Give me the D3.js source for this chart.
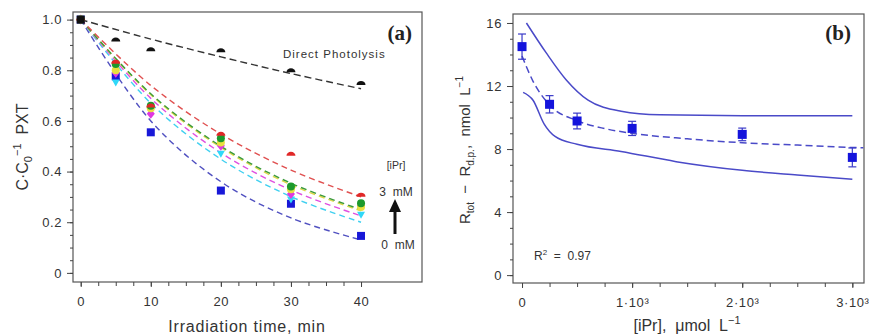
<!DOCTYPE html>
<html>
<head>
<meta charset="utf-8">
<script src="https://cdn.jsdelivr.net/npm/d3@7"></script>
<style>
  body { margin: 0; background: #fff; }
  svg { display: block; font-family: "Liberation Sans", Arial, sans-serif; }
  .tick text { fill: #333; font-size: 13px; letter-spacing: 0.6px; }
  .tick line { stroke: #444; }
</style>
</head>
<body>
<div id="chart"></div>
<script>
// ---- panel (a) data ----
const timesA = [0, 5, 10, 20, 30, 40];
const fitTimesA = [0, 10, 20, 30, 40];

const photolysisPts = [1.0, 0.917, 0.879, 0.875, 0.796, 0.746];
const photolysisFit = [1.0, 0.923, 0.853, 0.787, 0.727];

const iprSeries = ['0 mM', 'cyan', 'magenta', 'yellow', 'green', '3 mM'];
const iprColors = ['#1818d8', '#30d8f8', '#e038e0', '#e8e040', '#1c9a2c', '#e02828'];
const iprLineColors = ['#5050c0', '#40d0f0', '#e050e0', '#e0d848', '#3a9a3a', '#e05050'];
const iprMarkers = ['square', 'triangle', 'diamond', 'circle', 'circle', 'dome'];
const iprPts = [
  [1.0, 0.776, 0.555, 0.325, 0.273, 0.146],
  [1.0, 0.752, 0.640, 0.470, 0.290, 0.230],
  [1.0, 0.790, 0.628, 0.502, 0.311, 0.265],
  [1.0, 0.800, 0.650, 0.515, 0.330, 0.260],
  [1.0, 0.825, 0.660, 0.532, 0.341, 0.275],
  [1.0, 0.830, 0.657, 0.545, 0.466, 0.305]
];
const iprFits = [
  [1.0, 0.600, 0.360, 0.217, 0.130],
  [1.0, 0.670, 0.449, 0.301, 0.200],
  [1.0, 0.689, 0.474, 0.327, 0.225],
  [1.0, 0.703, 0.495, 0.348, 0.245],
  [1.0, 0.707, 0.500, 0.354, 0.250],
  [1.0, 0.740, 0.548, 0.406, 0.300]
];
const yTicksA = [0, 0.2, 0.4, 0.6, 0.8, 1.0];
const yTickLabelsA = ['0', '0.2', '0.4', '0.6', '0.8', '1.0'];
const xTicksA = [0, 10, 20, 30, 40];

// ---- panel (b) data ----
const iprConc = [0, 250, 500, 1000, 2000, 3000];
const rateVals = [14.5, 10.84, 9.78, 9.31, 8.93, 7.47];
const rateErr = [0.8, 0.55, 0.5, 0.45, 0.4, 0.6];

const fitConcB = [0, 100, 250, 500, 750, 1000, 1500, 2000, 2500, 3000, 3100];
const fitValsB = [13.9, 12.3, 10.8, 9.8, 9.3, 9.0, 8.65, 8.4, 8.25, 8.1, 8.08];
const upperConc = [40, 220, 400, 600, 900, 1250, 2000, 3000];
const upperVals = [16.0, 14.1, 12.4, 11.1, 10.4, 10.17, 10.12, 10.12];
const lowerConc = [10, 100, 200, 300, 500, 900, 1400, 2000, 2500, 3000];
const lowerVals = [11.6, 11.1, 9.6, 8.8, 8.3, 7.85, 7.2, 6.65, 6.35, 6.08];

const yTicksB = [0, 4, 8, 12, 16];
const xTicksB = [0, 1000, 2000, 3000];
const xTickLabelsB = ['0', '1·10³', '2·10³', '3·10³'];

const W = 869, H = 336;
const svg = d3.select('#chart').append('svg').attr('width', W).attr('height', H);

const symbolPath = (shape, x, y) => {
  const s = 4;
  if (shape === 'square') return `M${x - s},${y - s}h${2 * s}v${2 * s}h${-2 * s}Z`;
  if (shape === 'diamond') return `M${x},${y - s - 1}L${x + s},${y}L${x},${y + s + 1}L${x - s},${y}Z`;
  if (shape === 'triangle') return `M${x},${y + s}L${x + s},${y - s + 1}L${x - s},${y - s + 1}Z`;
  if (shape === 'dome') return `M${x - s - 0.5},${y + 1}A${s + 0.5},${s} 0 0 1 ${x + s + 0.5},${y + 1}Z`;
  return `M${x - s},${y}A${s},${s} 0 1 1 ${x + s},${y}A${s},${s} 0 1 1 ${x - s},${y}Z`;
};

// ================= Panel (a) =================
const xA = d3.scaleLinear().domain([-1.1, 48.7]).range([73, 422]);
const yA = d3.scaleLinear().domain([-0.036, 1.03]).range([282, 12]);
const gA = svg.append('g');

gA.append('rect').attr('x', 73).attr('y', 12).attr('width', 349).attr('height', 270)
  .attr('fill', 'none').attr('stroke', '#555').attr('stroke-width', 1.2);

gA.append('g').attr('transform', 'translate(0,282)')
  .call(d3.axisBottom(xA).tickValues(d3.range(0, 40.1, 2.5)).tickSize(4).tickFormat(''))
  .call(g => g.select('.domain').remove());
gA.append('g').attr('transform', 'translate(0,282)')
  .call(d3.axisBottom(xA).tickValues(xTicksA).tickSize(5).tickPadding(10))
  .call(g => g.select('.domain').remove());
gA.append('g').attr('transform', 'translate(73,0)')
  .call(d3.axisLeft(yA).tickValues(d3.range(0, 1.001, 0.05)).tickSize(3).tickFormat(''))
  .call(g => g.select('.domain').remove());
gA.append('g').attr('transform', 'translate(73,0)')
  .call(d3.axisLeft(yA).tickValues(yTicksA).tickSize(6).tickPadding(5)
    .tickFormat((d, i) => yTickLabelsA[i]))
  .call(g => g.select('.domain').remove());

const lineA = d3.line().x(d => xA(d[0])).y(d => yA(d[1])).curve(d3.curveCatmullRom);

iprFits.forEach((f, i) => {
  gA.append('path').datum(fitTimesA.map((t, j) => [t, f[j]]))
    .attr('d', lineA).attr('fill', 'none')
    .attr('stroke', iprLineColors[i]).attr('stroke-width', 1.4)
    .attr('stroke-dasharray', '6,4');
});
gA.append('path').datum(fitTimesA.map((t, j) => [t, photolysisFit[j]]))
  .attr('d', lineA).attr('fill', 'none')
  .attr('stroke', '#333').attr('stroke-width', 1.4).attr('stroke-dasharray', '7,4');

iprPts.forEach((p, i) => {
  gA.append('g').selectAll('path')
    .data(timesA.map((t, j) => [t, p[j]]))
    .join('path')
    .attr('d', d => symbolPath(iprMarkers[i], xA(d[0]), yA(d[1])))
    .attr('fill', iprColors[i]);
});
gA.append('g').selectAll('path')
  .data(timesA.map((t, j) => [t, photolysisPts[j]]))
  .join('path')
  .attr('d', d => symbolPath(d[0] === 0 ? 'square' : 'dome', xA(d[0]), yA(d[1])))
  .attr('fill', '#111');

gA.append('text').attr('x', 412).attr('y', 40).attr('text-anchor', 'end')
  .attr('font-family', '"Liberation Serif", serif').attr('font-weight', 'bold')
  .attr('font-size', 21).attr('fill', '#222').text('(a)');
gA.append('text').attr('x', 283).attr('y', 58)
  .attr('font-size', 11.5).attr('letter-spacing', 1).attr('fill', '#333').text('Direct Photolysis');
gA.append('text').attr('x', 396).attr('y', 169).attr('text-anchor', 'middle')
  .attr('font-size', 10.5).attr('fill', '#333').text('[iPr]');
gA.append('text').attr('x', 396).attr('y', 196).attr('text-anchor', 'middle')
  .attr('font-size', 12).attr('fill', '#333').attr('xml:space', 'preserve').text('3  mM');
gA.append('text').attr('x', 398).attr('y', 249).attr('text-anchor', 'middle')
  .attr('font-size', 12).attr('fill', '#333').attr('xml:space', 'preserve').text('0  mM');
gA.append('line').attr('x1', 395).attr('x2', 395).attr('y1', 234).attr('y2', 210)
  .attr('stroke', '#111').attr('stroke-width', 3);
gA.append('path').attr('d', 'M389,212L395,199L401,212Z').attr('fill', '#111');

const tA = gA.append('text').attr('transform', 'translate(28,147) rotate(-90)')
  .attr('text-anchor', 'middle').attr('font-size', 16).attr('fill', '#333');
tA.append('tspan').text('C·C');
tA.append('tspan').attr('font-size', 11).attr('dy', 4).text('0');
tA.append('tspan').attr('font-size', 11).attr('dy', -11).text('−1');
tA.append('tspan').attr('dy', 7).attr('xml:space', 'preserve').text('  PXT');

gA.append('text').attr('x', 247).attr('y', 332).attr('text-anchor', 'middle')
  .attr('font-size', 16).attr('letter-spacing', 0.8).attr('fill', '#333')
  .text('Irradiation time, min');

// ================= Panel (b) =================
const xB = d3.scaleLinear().domain([-82, 3106]).range([513, 864]);
const yB = d3.scaleLinear().domain([-0.5, 16.57]).range([283, 14]);
const gB = svg.append('g');

gB.append('rect').attr('x', 513).attr('y', 14).attr('width', 351).attr('height', 269)
  .attr('fill', 'none').attr('stroke', '#555').attr('stroke-width', 1.2);

gB.append('g').attr('transform', 'translate(0,283)')
  .call(d3.axisBottom(xB).tickValues(d3.range(0, 3001, 250)).tickSize(4).tickFormat(''))
  .call(g => g.select('.domain').remove());
gB.append('g').attr('transform', 'translate(0,283)')
  .call(d3.axisBottom(xB).tickValues(xTicksB).tickSize(5).tickPadding(10)
    .tickFormat((d, i) => xTickLabelsB[i]))
  .call(g => g.select('.domain').remove());
gB.append('g').attr('transform', 'translate(513,0)')
  .call(d3.axisLeft(yB).tickValues(d3.range(0, 16.1, 1)).tickSize(3).tickFormat(''))
  .call(g => g.select('.domain').remove());
gB.append('g').attr('transform', 'translate(513,0)')
  .call(d3.axisLeft(yB).tickValues(yTicksB).tickSize(6).tickPadding(5))
  .call(g => g.select('.domain').remove());

const lineB = d3.line().x(d => xB(d[0])).y(d => yB(d[1])).curve(d3.curveMonotoneX);
const bandColor = '#4a4ac8';

gB.append('path').datum(upperConc.map((c, j) => [c, upperVals[j]]))
  .attr('d', lineB).attr('fill', 'none').attr('stroke', bandColor).attr('stroke-width', 1.5);
gB.append('path').datum(lowerConc.map((c, j) => [c, lowerVals[j]]))
  .attr('d', lineB).attr('fill', 'none').attr('stroke', bandColor).attr('stroke-width', 1.5);
gB.append('path').datum(fitConcB.map((c, j) => [c, fitValsB[j]]))
  .attr('d', lineB).attr('fill', 'none').attr('stroke', bandColor).attr('stroke-width', 1.5)
  .attr('stroke-dasharray', '7,4');

const errG = gB.append('g').attr('stroke', '#3a3ac8').attr('stroke-width', 1.2);
iprConc.forEach((c, i) => {
  const x = xB(c), y1 = yB(rateVals[i] + rateErr[i]), y2 = yB(rateVals[i] - rateErr[i]);
  errG.append('line').attr('x1', x).attr('x2', x).attr('y1', y1).attr('y2', y2);
  errG.append('line').attr('x1', x - 4).attr('x2', x + 4).attr('y1', y1).attr('y2', y1);
  errG.append('line').attr('x1', x - 4).attr('x2', x + 4).attr('y1', y2).attr('y2', y2);
});
gB.append('g').selectAll('rect')
  .data(iprConc.map((c, j) => [c, rateVals[j]]))
  .join('rect')
  .attr('x', d => xB(d[0]) - 4.5).attr('y', d => yB(d[1]) - 4.5)
  .attr('width', 9).attr('height', 9).attr('fill', '#1414dc');

gB.append('text').attr('x', 851).attr('y', 40).attr('text-anchor', 'end')
  .attr('font-family', '"Liberation Serif", serif').attr('font-weight', 'bold')
  .attr('font-size', 21).attr('fill', '#222').text('(b)');

const r2 = gB.append('text').attr('x', 534).attr('y', 260).attr('font-size', 12)
  .attr('fill', '#333').attr('xml:space', 'preserve');
r2.append('tspan').text('R');
r2.append('tspan').attr('font-size', 8).attr('dy', -5).text('2');
r2.append('tspan').attr('dy', 5).text('  =  0.97');

const tB = gB.append('text').attr('transform', 'translate(470,150) rotate(-90)')
  .attr('text-anchor', 'middle').attr('font-size', 15).attr('fill', '#333')
  .attr('xml:space', 'preserve');
tB.append('tspan').text('R');
tB.append('tspan').attr('font-size', 10).attr('dy', 4).text('tot');
tB.append('tspan').attr('dy', -4).text('  −  R');
tB.append('tspan').attr('font-size', 10).attr('dy', 4).text('d.p.');
tB.append('tspan').attr('dy', -4).text(',  nmol  L');
tB.append('tspan').attr('font-size', 10).attr('dy', -7).text('−1');

const xtB = gB.append('text').attr('x', 687).attr('y', 331).attr('text-anchor', 'middle')
  .attr('font-size', 16).attr('fill', '#333').attr('xml:space', 'preserve');
xtB.append('tspan').text('[iPr],  μmol  L');
xtB.append('tspan').attr('font-size', 11).attr('dy', -7).text('−1');
</script>
</body>
</html>
